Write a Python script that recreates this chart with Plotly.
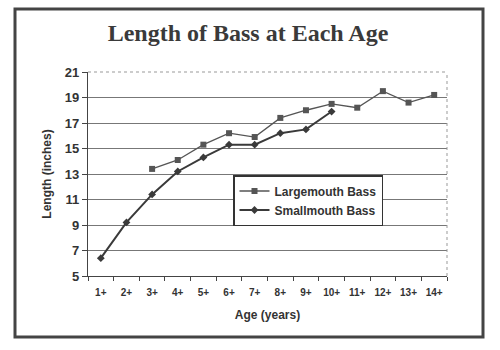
import plotly.graph_objects as go

ages = ["1+", "2+", "3+", "4+", "5+", "6+", "7+", "8+", "9+", "10+", "11+", "12+", "13+", "14+"]
largemouth = [None, None, 13.4, 14.1, 15.3, 16.2, 15.9, 17.4, 18.0, 18.5, 18.2, 19.5, 18.6, 19.2]
smallmouth = [6.4, 9.2, 11.4, 13.2, 14.3, 15.3, 15.3, 16.2, 16.5, 17.9, None, None, None, None]
y_ticks = [5, 7, 9, 11, 13, 15, 17, 19, 21]

fig = go.Figure()
fig.add_trace(go.Scatter(
    x=ages, y=largemouth, name="<b>Largemouth Bass</b>", mode="lines+markers",
    line=dict(color="#555555", width=1.3),
    marker=dict(symbol="square", size=6, color="#555555"),
))
fig.add_trace(go.Scatter(
    x=ages, y=smallmouth, name="<b>Smallmouth Bass</b>", mode="lines+markers",
    line=dict(color="#3a3a3a", width=2),
    marker=dict(symbol="diamond", size=6, color="#3a3a3a"),
))

L, R, T, B = 88, 53, 72, 74
pw, ph = 500 - L - R, 350 - T - B

def px(xp):
    return (xp - L) / pw

def py(yp):
    return (350 - B - yp) / ph

fig.update_layout(
    width=500, height=350,
    margin=dict(l=L, r=R, t=T, b=B),
    paper_bgcolor="white", plot_bgcolor="white",
    title=dict(text="<b>Length of Bass at Each Age</b>", x=0.496, xanchor="center",
               y=1 - 33 / 350, yanchor="middle",
               font=dict(family="Liberation Serif", size=24, color="#3a3a3a")),
    font=dict(family="Liberation Sans", color="#333333"),
    showlegend=True,
    legend=dict(x=px(233), y=py(175), xanchor="left", yanchor="top",
                bgcolor="white", bordercolor="#333333", borderwidth=1.5,
                font=dict(family="Liberation Sans", size=12, color="#333333"),
                tracegroupgap=0, itemwidth=30),
    xaxis=dict(
        type="category", categoryorder="array", categoryarray=ages,
        range=[-0.5, len(ages) - 0.5],
        showgrid=False, ticks="outside", tickson="boundaries", ticklen=4,
        tickcolor="#444444", showline=True, linecolor="#444444", linewidth=1.2,
        tickangle=0, ticklabelstandoff=7,
        tickfont=dict(family="Liberation Sans", size=10, color="#333333"),
        title=dict(text="<b>Age (years)</b>", standoff=13,
                   font=dict(family="Liberation Sans", size=12, color="#333333")),
        tickprefix="<b>", ticksuffix="</b>",
    ),
    yaxis=dict(
        range=[5, 21], tickvals=y_ticks, ticktext=[f"<b>{v}</b>" for v in y_ticks],
        showgrid=True, gridcolor="#777777", gridwidth=1,
        ticks="outside", ticklen=5, tickcolor="#444444",
        showline=True, linecolor="#444444", linewidth=1.2,
        tickfont=dict(family="Liberation Sans", size=13, color="#333333"),
        title=dict(text="<b>Length (inches)</b>", standoff=10,
                   font=dict(family="Liberation Sans", size=12, color="#333333")),
    ),
)

# light dotted border at top and right of plot area
fig.add_shape(type="line", xref="paper", yref="paper", x0=0, x1=1, y0=1, y1=1,
              line=dict(color="#999999", width=1, dash="dot"))
fig.add_shape(type="line", xref="paper", yref="paper", x0=1, x1=1, y0=0, y1=1,
              line=dict(color="#999999", width=1, dash="dot"))
# outer frame
fig.add_shape(type="rect", xref="paper", yref="paper",
              x0=px(15), x1=px(483), y0=py(337), y1=py(9),
              line=dict(color="#444444", width=3), layer="above")

fig.write_html("out.html")
